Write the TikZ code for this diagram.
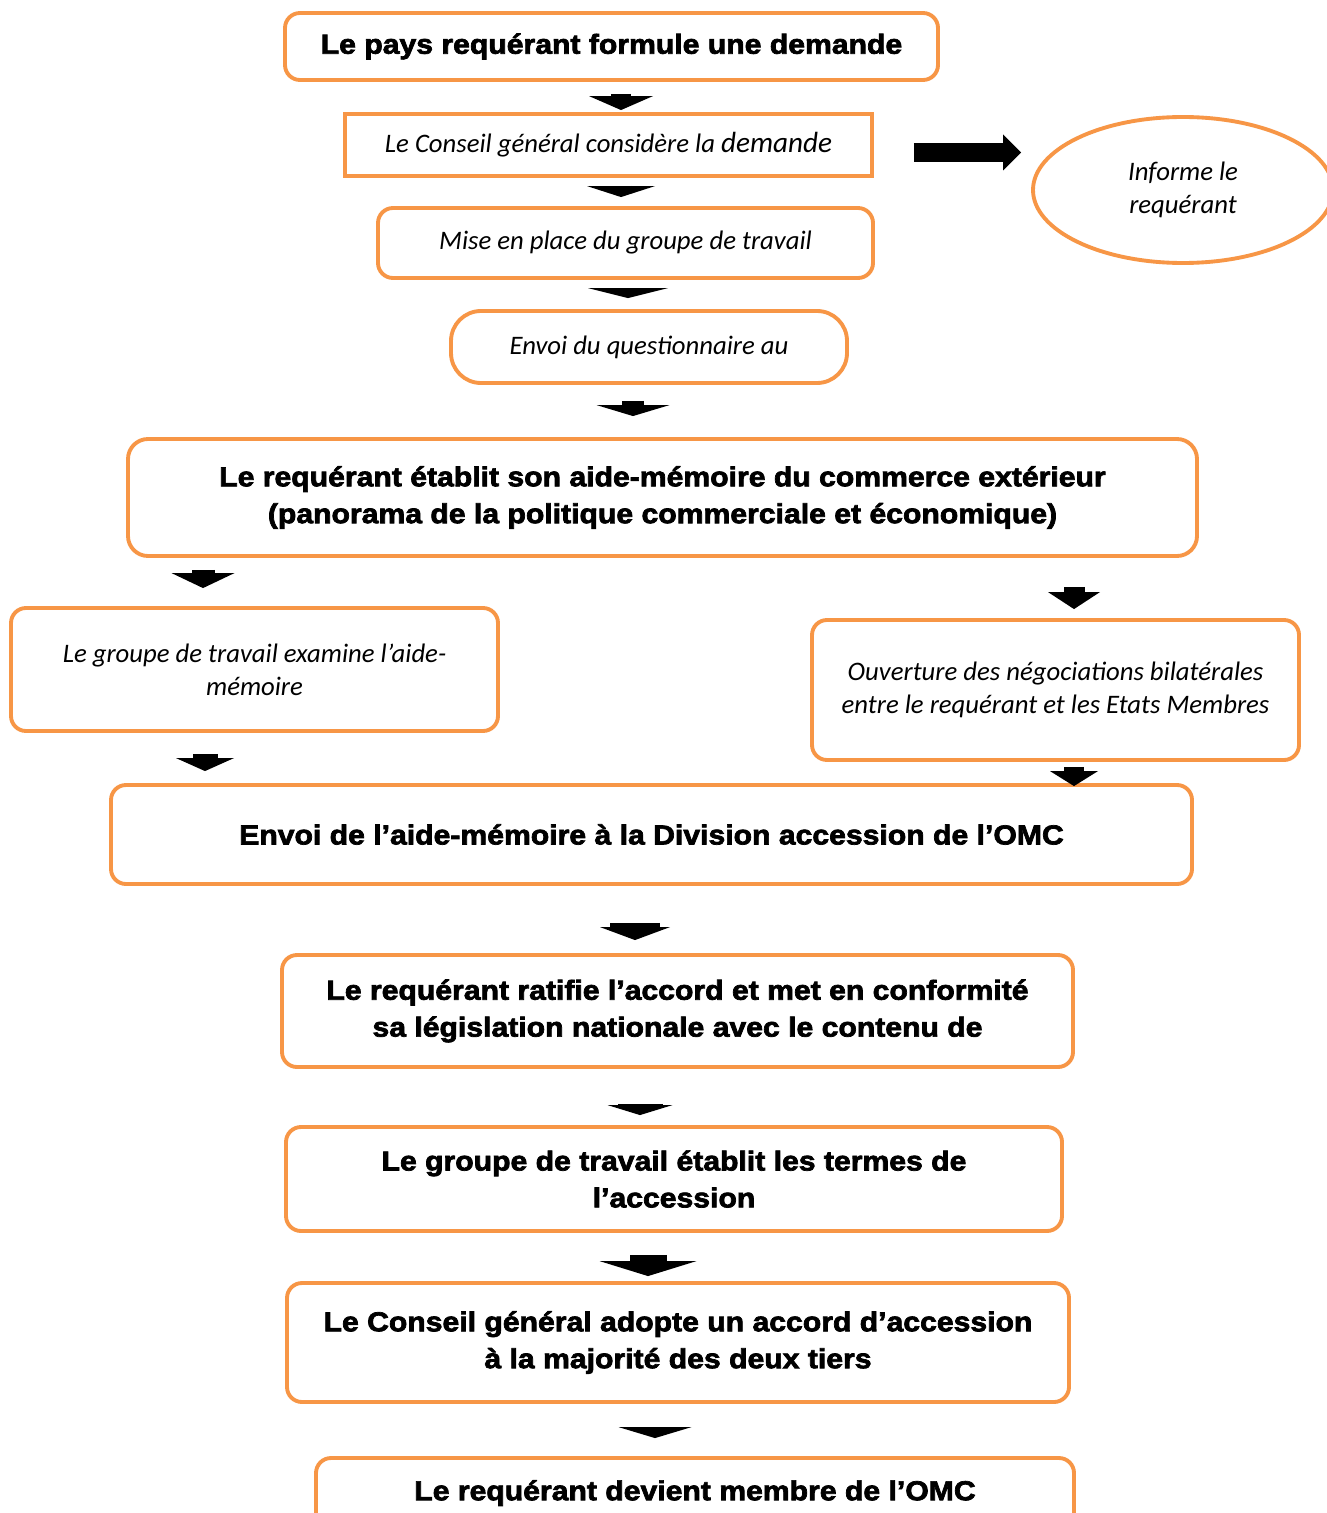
\documentclass[tikz,border=0pt]{standalone}
\usepackage{fontspec}
\setmainfont{Carlito}
\newfontfamily\heavyfont{Liberation Sans Bold}[FakeStretch=1.1,FakeBold=2.6]
\usetikzlibrary{positioning,arrows.meta,shapes.geometric}
\definecolor{orangewto}{RGB}{247,150,70}

\tikzset{
  stepbold/.style={draw=orangewto, line width=2.2pt, rounded corners=0.3cm, align=center,
    inner sep=0pt, font=\heavyfont\fontsize{15.6}{21}\selectfont},
  stepital/.style={draw=orangewto, line width=2.2pt, rounded corners=0.3cm, align=center,
    inner sep=0pt, font=\itshape\fontsize{15.2}{18.6}\selectfont},
  blockarr/.style n args={3}{line width=#1, -{Triangle[width=#2,length=#3,line width=0pt]}},
}

\begin{document}
\begin{tikzpicture}
\useasboundingbox (0,0) rectangle (26.54,-30.26);
\fill[white] (0,0) rectangle (26.54,-30.26);
\clip (0,0) rectangle (26.54,-30.26);

\node[stepbold, minimum width=13.06cm, minimum height=1.34cm] (b1) at (12.23,-0.93) {Le pays requérant formule une demande};
\node[stepital, sharp corners, minimum width=10.54cm, minimum height=1.24cm] (b2) at (12.17,-2.90) {Le Conseil général considère la {\fontsize{16.6}{18.6}\selectfont demande}};
\node[stepital, minimum width=9.9cm, minimum height=1.4cm] (b3) at (12.51,-4.86) {Mise en place du groupe de travail};
\node[stepital, rounded corners=0.6cm, minimum width=7.92cm, minimum height=1.44cm] (b4) at (12.98,-6.94) {Envoi du questionnaire au};
\node[stepbold, rounded corners=0.4cm, minimum width=21.38cm, minimum height=2.34cm] (b5) at (13.25,-9.95) {Le requérant établit son aide-mémoire du commerce extérieur\\(panorama de la politique commerciale et économique)};
\node[stepital, minimum width=9.74cm, minimum height=2.46cm] (b6) at (5.09,-13.39) {Le groupe de travail examine l’aide-\\mémoire};
\node[stepital, minimum width=9.74cm, minimum height=2.8cm] (b7) at (21.11,-13.80) {Ouverture des négociations bilatérales\\entre le requérant et les Etats Membres};
\node[stepbold, minimum width=21.62cm, minimum height=1.98cm] (b8) at (13.03,-16.69) {Envoi de l’aide-mémoire à la Division accession de l’OMC};
\node[stepbold, minimum width=15.82cm, minimum height=2.24cm] (b9) at (13.55,-20.22) {Le requérant ratifie l’accord et met en conformité\\sa législation nationale avec le contenu de};
\node[stepbold, minimum width=15.52cm, minimum height=2.08cm] (b10) at (13.48,-23.58) {Le groupe de travail établit les termes de\\l’accession};
\node[stepbold, minimum width=15.64cm, minimum height=2.38cm] (b11) at (13.56,-26.85) {Le Conseil général adopte un accord d’accession\\à la majorité des deux tiers};
\node[stepbold, minimum width=15.16cm, minimum height=1.4cm] (b12) at (13.90,-29.86) {Le requérant devient membre de l’OMC};
\node[stepital, ellipse, minimum width=6cm, minimum height=2.92cm] (inf) at (23.66,-3.80) {Informe le\\requérant};

\draw[blockarr={0.4cm}{1.28cm}{0.28cm}, shorten <=0.24cm, shorten >=0.04cm] (b1.south -| 12.42,0) -- (b2.north -| 12.42,0);
\draw[blockarr={0.38cm}{0.72cm}{0.36cm}, shorten <=0.8cm, shorten >=0.2cm] (b2.east |- 0,-3.05) -- (inf.west |- 0,-3.05);
\draw[blockarr={0.44cm}{1.36cm}{0.22cm}, shorten <=0.16cm, shorten >=0.18cm] (b2.south -| 12.42,0) -- (b3.north -| 12.42,0);
\draw[blockarr={0.5cm}{1.6cm}{0.2cm}, shorten <=0.18cm, shorten >=0.22cm] (b3.south -| 12.56,0) -- (b4.north -| 12.56,0);
\draw[blockarr={0.44cm}{1.46cm}{0.22cm}, shorten <=0.32cm, shorten >=0.42cm] (b4.south -| 12.66,0) -- (b5.north -| 12.66,0);
\draw[blockarr={0.46cm}{1.26cm}{0.3cm}, shorten <=0.24cm, shorten >=0.36cm] (b5.south -| 4.06,0) -- (b6.north -| 4.06,0);
\draw[blockarr={0.42cm}{1.04cm}{0.34cm}, shorten <=0.58cm, shorten >=0.18cm] (b5.south -| 21.48,0) -- (b7.north -| 21.48,0);
\draw[blockarr={0.5cm}{1.16cm}{0.26cm}, shorten <=0.42cm, shorten >=0.24cm] (b6.south -| 4.10,0) -- (b8.north -| 4.10,0);
\draw[blockarr={0.4cm}{0.96cm}{0.3cm}, shorten <=0.1cm, shorten >=-0.06cm] (b7.south -| 21.48,0) -- (b8.north -| 21.48,0);
\draw[blockarr={1.0cm}{1.4cm}{0.26cm}, shorten <=0.74cm, shorten >=0.26cm] (b8.south -| 12.70,0) -- (b9.north -| 12.70,0);
\draw[blockarr={0.9cm}{1.3cm}{0.2cm}, shorten <=0.7cm, shorten >=0.2cm] (b9.south -| 12.80,0) -- (b10.north -| 12.80,0);
\draw[blockarr={0.74cm}{1.94cm}{0.3cm}, shorten <=0.44cm, shorten >=0.1cm] (b10.south -| 12.96,0) -- (b11.north -| 12.96,0);
\draw[blockarr={1.2cm}{1.46cm}{0.22cm}, shorten <=0.48cm, shorten >=0.36cm] (b11.south -| 13.10,0) -- (b12.north -| 13.10,0);
\end{tikzpicture}
\end{document}
